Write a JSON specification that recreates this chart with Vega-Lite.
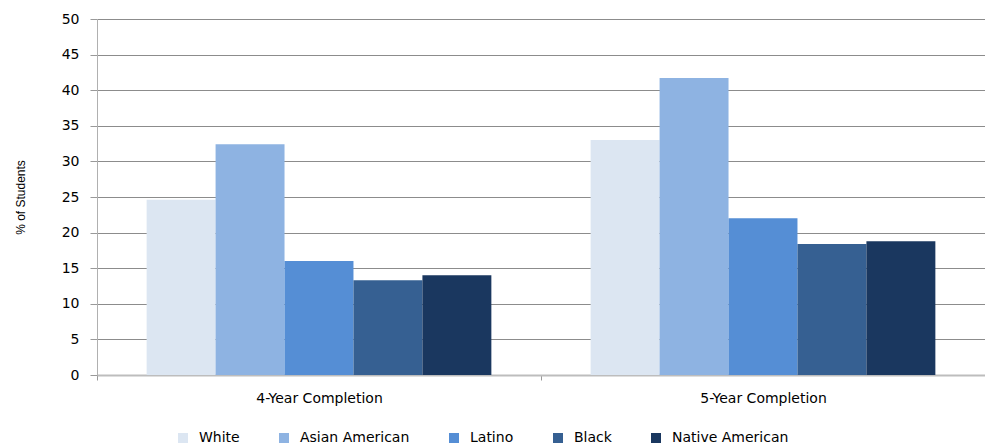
{
  "$schema": "https://vega.github.io/schema/vega-lite/v6.json",
  "width": 888,
  "height": 356,
  "autosize": "none",
  "padding": {"left": 97, "top": 19, "right": 0, "bottom": 71},
  "background": "white",
  "data": {
    "values": [
      {"group": "4-Year Completion", "race": "White", "value": 24.6},
      {"group": "4-Year Completion", "race": "Asian American", "value": 32.4},
      {"group": "4-Year Completion", "race": "Latino", "value": 16.0},
      {"group": "4-Year Completion", "race": "Black", "value": 13.3},
      {"group": "4-Year Completion", "race": "Native American", "value": 14.0},
      {"group": "5-Year Completion", "race": "White", "value": 33.0},
      {"group": "5-Year Completion", "race": "Asian American", "value": 41.7},
      {"group": "5-Year Completion", "race": "Latino", "value": 22.0},
      {"group": "5-Year Completion", "race": "Black", "value": 18.4},
      {"group": "5-Year Completion", "race": "Native American", "value": 18.8}
    ]
  },
  "config": {
    "view": {"stroke": null},
    "font": "DejaVu Sans"
  },
  "mark": {"type": "bar"},
  "encoding": {
    "x": {
      "field": "group",
      "type": "nominal",
      "scale": {"paddingInner": 0, "paddingOuter": 0},
      "axis": {
        "title": null,
        "labelAngle": 0,
        "labelFont": "DejaVu Sans",
        "labelFontSize": 14,
        "labelColor": "#000000",
        "labelPadding": 11,
        "tickBand": "extent",
        "tickSize": 5,
        "tickColor": "#999999",
        "domainColor": "#bdbdbd",
        "domainWidth": 2,
        "grid": false
      }
    },
    "xOffset": {
      "field": "race",
      "type": "nominal",
      "sort": ["White", "Asian American", "Latino", "Black", "Native American"],
      "scale": {"paddingInner": 0, "paddingOuter": 0.72}
    },
    "y": {
      "field": "value",
      "type": "quantitative",
      "scale": {"domain": [0, 50], "nice": false},
      "axis": {
        "title": "% of Students",
        "titleFont": "Liberation Sans",
        "titleFontSize": 12,
        "titleFontWeight": "normal",
        "titleColor": "#000000",
        "titlePadding": 34,
        "values": [0, 5, 10, 15, 20, 25, 30, 35, 40, 45, 50],
        "labelFont": "DejaVu Sans",
        "labelFontSize": 14,
        "labelColor": "#000000",
        "labelPadding": 11,
        "tickSize": 7,
        "tickColor": "#999999",
        "domainColor": "#b0b0b0",
        "grid": true,
        "gridColor": "#8c8c8c",
        "gridWidth": 1
      }
    },
    "color": {
      "field": "race",
      "type": "nominal",
      "sort": ["White", "Asian American", "Latino", "Black", "Native American"],
      "scale": {
        "domain": ["White", "Asian American", "Latino", "Black", "Native American"],
        "range": ["#dce6f2", "#8eb3e2", "#558ed5", "#366092", "#1a375f"]
      },
      "legend": {
        "title": null,
        "orient": "none",
        "direction": "horizontal",
        "legendX": 79,
        "legendY": 412,
        "symbolType": "square",
        "symbolSize": 100,
        "symbolStrokeWidth": 0,
        "symbolOpacity": 1,
        "labelFont": "DejaVu Sans",
        "labelFontSize": 14,
        "labelColor": "#000000",
        "labelOffset": 9,
        "columnPadding": 37
      }
    }
  }
}
